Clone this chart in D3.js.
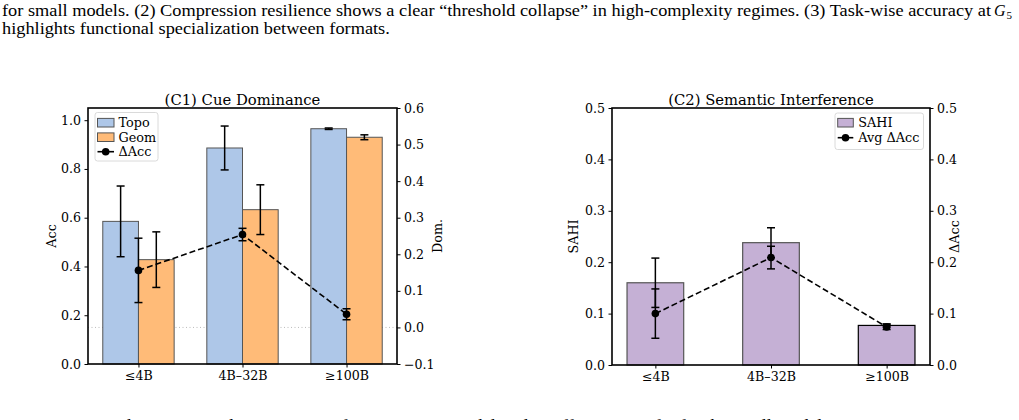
<!DOCTYPE html>
<html>
<head>
<meta charset="utf-8">
<script src="https://cdn.jsdelivr.net/npm/d3@7"></script>
</head>
<body style="margin:0">
<svg id="fig" width="1019" height="420" style="display:block"></svg>
<script>
// ---- data ----
const sizes = ['≤4B', '4B–32B', '≥100B']

const topoAcc = [0.585, 0.886, 0.965]
const topoErr = [0.145, 0.090, 0.003]
const geomAcc = [0.428, 0.633, 0.930]
const geomErr = [0.114, 0.102, 0.010]
const domDelta = [0.156, 0.254, 0.036]
const domErr = [0.088, 0.017, 0.015]

const sahi = [0.160, 0.238, 0.077]
const sahiErr = [0.048, 0.029, 0.003]
const avgDelta = [0.100, 0.209, 0.074]
const avgErr = [0.048, 0.022, 0.005]

const accTicks = [0, 0.2, 0.4, 0.6, 0.8, 1.0]
const domTicks = [-0.1, 0, 0.1, 0.2, 0.3, 0.4, 0.5, 0.6]
const sahiTicks = [0, 0.1, 0.2, 0.3, 0.4, 0.5]

const captionTop = [
  'for small models. (2) Compression resilience shows a clear \u201cthreshold collapse\u201d in high-complexity regimes. (3) Task-wise accuracy at',
  'highlights functional specialization between formats.'
]
const captionBottom = 'Figure 3: Cue dominance and semantic interference across model scales: efficient transfer for the small models.'

const SERIF = 'DejaVu Serif'
const TIMES = 'Times New Roman'

const svg = d3.select('#fig')

// caption text above the figure, stretched to the page width
let cap1 = svg.append('text').attr('x', 2).attr('y', 16)
  .style('font-family', TIMES).style('font-size', '16px').text(captionTop[0])
let stretch = 989 / cap1.node().getComputedTextLength()
cap1.attr('textLength', 989).attr('lengthAdjust', 'spacingAndGlyphs')
svg.append('text').attr('x', 994).attr('y', 16)
  .style('font-family', TIMES).style('font-size', '16px').style('font-style', 'italic').text('G')
svg.append('text').attr('x', 1006.5).attr('y', 19)
  .style('font-family', TIMES).style('font-size', '11px').text('5')
let cap2 = svg.append('text').attr('x', 2).attr('y', 34)
  .style('font-family', TIMES).style('font-size', '16px').text(captionTop[1])
cap2.attr('textLength', cap2.node().getComputedTextLength() * stretch).attr('lengthAdjust', 'spacingAndGlyphs')
let cap3 = svg.append('text').attr('x', 17).attr('y', 430.5)
  .style('font-family', TIMES).style('font-size', '16px').text(captionBottom)
cap3.attr('textLength', cap3.node().getComputedTextLength() * stretch).attr('lengthAdjust', 'spacingAndGlyphs')

function errBars(g, xs, ys, es, yScale, cap, color) {
  xs.forEach((x, i) => {
    let y0 = yScale(ys[i] - es[i]), y1 = yScale(ys[i] + es[i])
    g.append('line').attr('x1', x).attr('x2', x).attr('y1', y0).attr('y2', y1)
      .attr('stroke', color).attr('stroke-width', 1.5)
    ;[y0, y1].forEach(yy => {
      g.append('line').attr('x1', x - cap).attr('x2', x + cap).attr('y1', yy).attr('y2', yy)
        .attr('stroke', color).attr('stroke-width', 1.5)
    })
  })
}

function styleAxis(a) {
  a.select('.domain').remove()
  a.selectAll('.tick line').attr('stroke', '#000').attr('stroke-width', 1)
  a.selectAll('.tick text').attr('fill', '#000').style('font-size', '12.6px').style('font-family', SERIF)
}

function label(g, x, y, txt, size, rot) {
  let t = g.append('text').attr('text-anchor', 'middle')
    .style('font-family', SERIF).style('font-size', size + 'px').text(txt)
  if (rot) t.attr('transform', `translate(${x},${y}) rotate(-90)`)
  else t.attr('x', x).attr('y', y)
  return t
}

// ================= panel C1 =================
{
  let box = { left: 88, right: 397, top: 108, bottom: 364 }
  let g = svg.append('g')
  let x = d3.scaleLinear().domain([-0.485, 2.485]).range([box.left, box.right])
  let yL = d3.scaleLinear().domain([0, 1.05]).range([box.bottom, box.top])
  let yR = d3.scaleLinear().domain([-0.1, 0.6]).range([box.bottom, box.top])
  let w = 0.343

  // zero reference for dominance
  g.append('line').attr('x1', box.left).attr('x2', box.right)
    .attr('y1', yR(0)).attr('y2', yR(0))
    .attr('stroke', '#aaa').attr('stroke-width', 0.8).attr('stroke-dasharray', '1,2.5')

  g.selectAll('rect.topo').data(topoAcc).enter().append('rect')
    .attr('x', (d, i) => x(i - w))
    .attr('y', d => yL(d))
    .attr('width', x(w) - x(0))
    .attr('height', d => yL(0) - yL(d))
    .attr('fill', '#aec7e8').attr('stroke', '#555').attr('stroke-width', 1)
  g.selectAll('rect.geom').data(geomAcc).enter().append('rect')
    .attr('x', (d, i) => x(i))
    .attr('y', d => yL(d))
    .attr('width', x(w) - x(0))
    .attr('height', d => yL(0) - yL(d))
    .attr('fill', '#ffbb78').attr('stroke', '#555').attr('stroke-width', 1)

  errBars(g, sizes.map((s, i) => x(i - w / 2)), topoAcc, topoErr, yL, 4, '#000')
  errBars(g, sizes.map((s, i) => x(i + w / 2)), geomAcc, geomErr, yL, 4, '#000')

  // dominance line on right axis
  let line = d3.line().x((d, i) => x(i)).y(d => yR(d))
  g.append('path').datum(domDelta).attr('d', line)
    .attr('fill', 'none').attr('stroke', '#000').attr('stroke-width', 1.6).attr('stroke-dasharray', '6,3')
  errBars(g, sizes.map((s, i) => x(i)), domDelta, domErr, yR, 4, '#000')
  g.selectAll('circle').data(domDelta).enter().append('circle')
    .attr('cx', (d, i) => x(i)).attr('cy', d => yR(d)).attr('r', 3.8).attr('fill', '#000')

  // axes
  let ax = g.append('g').attr('transform', `translate(0,${box.bottom})`)
    .call(d3.axisBottom(x).tickValues([0, 1, 2]).tickFormat(i => sizes[i]).tickSizeOuter(0).tickSize(3.5).tickPadding(3.5))
  styleAxis(ax)
  let ayl = g.append('g').attr('transform', `translate(${box.left},0)`)
    .call(d3.axisLeft(yL).tickValues(accTicks).tickFormat(d3.format('.1f')).tickSize(3.5).tickPadding(3.5))
  styleAxis(ayl)
  let ayr = g.append('g').attr('transform', `translate(${box.right},0)`)
    .call(d3.axisRight(yR).tickValues(domTicks).tickFormat(d3.format('.1f')).tickSize(3.5).tickPadding(3.5))
  styleAxis(ayr)

  g.append('rect').attr('x', box.left).attr('y', box.top)
    .attr('width', box.right - box.left).attr('height', box.bottom - box.top)
    .attr('fill', 'none').attr('stroke', '#000').attr('stroke-width', 1.6)

  label(g, (box.left + box.right) / 2, box.top - 3.5, '(C1) Cue Dominance', 14.8)
  label(g, 56, (box.top + box.bottom) / 2, 'Acc', 12.8, true)
  label(g, 442, (box.top + box.bottom) / 2, 'Dom.', 12.8, true)

  // legend
  let lg = g.append('g')
  lg.append('rect').attr('x', 95).attr('y', 112.5).attr('width', 63).attr('height', 48.5).attr('rx', 2.5)
    .attr('fill', '#fff').attr('fill-opacity', 0.8).attr('stroke', '#d0d0d0').attr('stroke-width', 0.8)
  let items = [['Topo', '#aec7e8'], ['Geom', '#ffbb78']]
  items.forEach((it, i) => {
    let cy = 122.7 + i * 14.5
    lg.append('rect').attr('x', 97.5).attr('y', cy - 4.3).attr('width', 16.5).attr('height', 8.6)
      .attr('fill', it[1]).attr('stroke', '#555').attr('stroke-width', 1)
    lg.append('text').attr('x', 118.5).attr('y', cy + 4.5)
      .style('font-family', SERIF).style('font-size', '12.8px').text(it[0])
  })
  let cy = 122.7 + 2 * 14.5
  lg.append('line').attr('x1', 97.5).attr('x2', 114).attr('y1', cy).attr('y2', cy)
    .attr('stroke', '#000').attr('stroke-width', 1.6)
  lg.append('circle').attr('cx', 105.7).attr('cy', cy).attr('r', 3.8).attr('fill', '#000')
  lg.append('text').attr('x', 118.5).attr('y', cy + 4.5)
    .style('font-family', SERIF).style('font-size', '12.8px').text('ΔAcc')
}

// ================= panel C2 =================
{
  let box = { left: 612, right: 930, top: 108, bottom: 365 }
  let g = svg.append('g')
  let x = d3.scaleLinear().domain([-0.375, 2.375]).range([box.left, box.right])
  let yL = d3.scaleLinear().domain([0, 0.5]).range([box.bottom, box.top])
  let yR = d3.scaleLinear().domain([0, 0.5]).range([box.bottom, box.top])
  let w = 0.49
  let edge = ['#555', '#555', '#000']

  g.selectAll('rect.sahi').data(sahi).enter().append('rect')
    .attr('x', (d, i) => x(i - w / 2))
    .attr('y', d => yL(d))
    .attr('width', x(w) - x(0))
    .attr('height', d => yL(0) - yL(d))
    .attr('fill', '#c5b0d5').attr('stroke', (d, i) => edge[i]).attr('stroke-width', 1.2)
  errBars(g, sizes.map((s, i) => x(i)), sahi, sahiErr, yL, 4, '#000')

  let line = d3.line().x((d, i) => x(i)).y(d => yR(d))
  g.append('path').datum(avgDelta).attr('d', line)
    .attr('fill', 'none').attr('stroke', '#000').attr('stroke-width', 1.6).attr('stroke-dasharray', '6,3')
  errBars(g, sizes.map((s, i) => x(i)), avgDelta, avgErr, yR, 4, '#000')
  g.selectAll('circle').data(avgDelta).enter().append('circle')
    .attr('cx', (d, i) => x(i)).attr('cy', d => yR(d)).attr('r', 3.8).attr('fill', '#000')

  let ax = g.append('g').attr('transform', `translate(0,${box.bottom})`)
    .call(d3.axisBottom(x).tickValues([0, 1, 2]).tickFormat(i => sizes[i]).tickSizeOuter(0).tickSize(3.5).tickPadding(3.5))
  styleAxis(ax)
  let ayl = g.append('g').attr('transform', `translate(${box.left},0)`)
    .call(d3.axisLeft(yL).tickValues(sahiTicks).tickFormat(d3.format('.1f')).tickSize(3.5).tickPadding(3.5))
  styleAxis(ayl)
  let ayr = g.append('g').attr('transform', `translate(${box.right},0)`)
    .call(d3.axisRight(yR).tickValues(sahiTicks).tickFormat(d3.format('.1f')).tickSize(3.5).tickPadding(3.5))
  styleAxis(ayr)

  g.append('rect').attr('x', box.left).attr('y', box.top)
    .attr('width', box.right - box.left).attr('height', box.bottom - box.top)
    .attr('fill', 'none').attr('stroke', '#000').attr('stroke-width', 1.6)

  label(g, (box.left + box.right) / 2, box.top - 3.5, '(C2) Semantic Interference', 14.8)
  label(g, 578, (box.top + box.bottom) / 2, 'SAHI', 12.8, true)
  label(g, 959, (box.top + box.bottom) / 2, 'ΔAcc', 12.8, true)

  let lg = g.append('g')
  lg.append('rect').attr('x', 835).attr('y', 113).attr('width', 88.5).attr('height', 36.5).attr('rx', 2.5)
    .attr('fill', '#fff').attr('fill-opacity', 0.8).attr('stroke', '#d0d0d0').attr('stroke-width', 0.8)
  lg.append('rect').attr('x', 837.7).attr('y', 122.7 - 4.3).attr('width', 15.6).attr('height', 8.6)
    .attr('fill', '#c5b0d5').attr('stroke', '#555').attr('stroke-width', 1)
  lg.append('text').attr('x', 858.3).attr('y', 122.7 + 4.5)
    .style('font-family', SERIF).style('font-size', '12.8px').text('SAHI')
  let cy = 137.7
  lg.append('line').attr('x1', 837.7).attr('x2', 853.3).attr('y1', cy).attr('y2', cy)
    .attr('stroke', '#000').attr('stroke-width', 1.6)
  lg.append('circle').attr('cx', 845.5).attr('cy', cy).attr('r', 3.8).attr('fill', '#000')
  lg.append('text').attr('x', 858.3).attr('y', cy + 4.5)
    .style('font-family', SERIF).style('font-size', '12.8px').text('Avg ΔAcc')
}
</script>
</body>
</html>
